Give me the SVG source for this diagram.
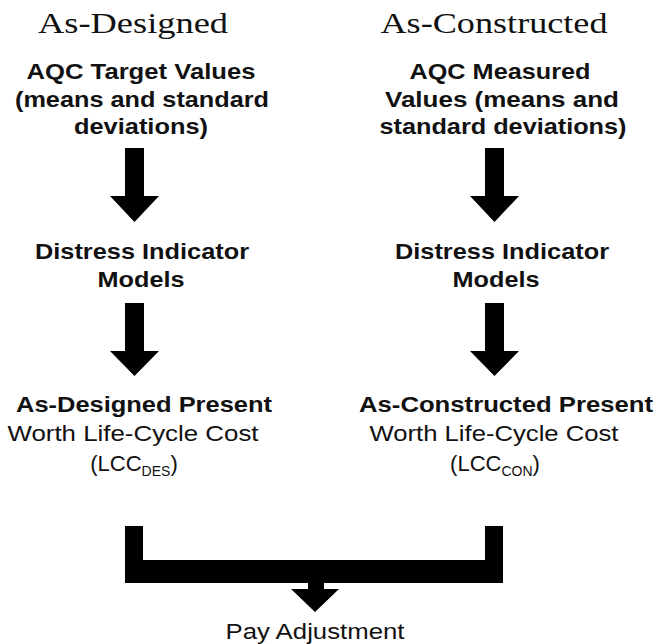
<svg xmlns="http://www.w3.org/2000/svg" width="655" height="644" viewBox="0 0 655 644">
<style>
.title{font-family:"Liberation Serif",serif;font-size:29px;fill:#111;text-anchor:middle}
.b{font-family:"Liberation Sans",Arial,sans-serif;font-size:22px;font-weight:bold;fill:#111;text-anchor:middle}
.r{font-family:"Liberation Sans",Arial,sans-serif;font-size:22px;fill:#111;text-anchor:middle}
.sub{font-size:14px}
.arr{fill:#000}
</style>
<rect width="655" height="644" fill="#fff"/>
<g id="title-designed"><text class="title" x="133" y="33" textLength="190" lengthAdjust="spacingAndGlyphs">As-Designed</text></g>
<g id="title-constructed"><text class="title" x="494" y="33" textLength="227" lengthAdjust="spacingAndGlyphs">As-Constructed</text></g>
<g id="aqc-target">
<text class="b" x="141" y="79" textLength="229" lengthAdjust="spacingAndGlyphs">AQC Target Values</text>
<text class="b" x="142" y="107" textLength="254" lengthAdjust="spacingAndGlyphs">(means and standard</text>
<text class="b" x="141" y="134" textLength="134" lengthAdjust="spacingAndGlyphs">deviations)</text>
</g>
<g id="aqc-measured">
<text class="b" x="500" y="79" textLength="181" lengthAdjust="spacingAndGlyphs">AQC Measured</text>
<text class="b" x="502" y="107" textLength="234" lengthAdjust="spacingAndGlyphs">Values (means and</text>
<text class="b" x="503" y="134" textLength="247" lengthAdjust="spacingAndGlyphs">standard deviations)</text>
</g>
<g id="distress-designed">
<text class="b" x="142" y="259" textLength="214" lengthAdjust="spacingAndGlyphs">Distress Indicator</text>
<text class="b" x="141" y="287" textLength="87" lengthAdjust="spacingAndGlyphs">Models</text>
</g>
<g id="distress-constructed">
<text class="b" x="502" y="259" textLength="214" lengthAdjust="spacingAndGlyphs">Distress Indicator</text>
<text class="b" x="496" y="287" textLength="87" lengthAdjust="spacingAndGlyphs">Models</text>
</g>
<g id="lcc-designed">
<text class="b" x="144" y="412" textLength="256" lengthAdjust="spacingAndGlyphs">As-Designed Present</text>
<text class="r" x="133" y="441" textLength="251" lengthAdjust="spacingAndGlyphs">Worth Life-Cycle Cost</text>
<text class="r" x="134" y="471">(LCC<tspan class="sub" dy="5">DES</tspan><tspan dy="-5">)</tspan></text>
</g>
<g id="lcc-constructed">
<text class="b" x="506" y="412" textLength="294" lengthAdjust="spacingAndGlyphs">As-Constructed Present</text>
<text class="r" x="494" y="441" textLength="249" lengthAdjust="spacingAndGlyphs">Worth Life-Cycle Cost</text>
<text class="r" x="495" y="471">(LCC<tspan class="sub" dy="5">CON</tspan><tspan dy="-5">)</tspan></text>
</g>
<g id="pay-adjustment">
<text class="r" x="315" y="639" textLength="179" lengthAdjust="spacingAndGlyphs">Pay Adjustment</text>
</g>
<g id="connectors" class="arr">
<polygon points="125,148 144,148 144,196 159,196 134.5,222 110,196 125,196"/>
<polygon points="485,148 504,148 504,196 519,196 494.5,222 470,196 485,196"/>
<polygon points="125,303 144,303 144,351 159,351 134.5,376 110,351 125,351"/>
<polygon points="485,303 504,303 504,351 519,351 494.5,376 470,351 485,351"/>
<polygon points="125,526 143,526 143,560 485,560 485,526 503,526 503,583 324,583 324,589 339,589 315,612 291,589 308,589 308,583 125,583"/>
</g>
</svg>
